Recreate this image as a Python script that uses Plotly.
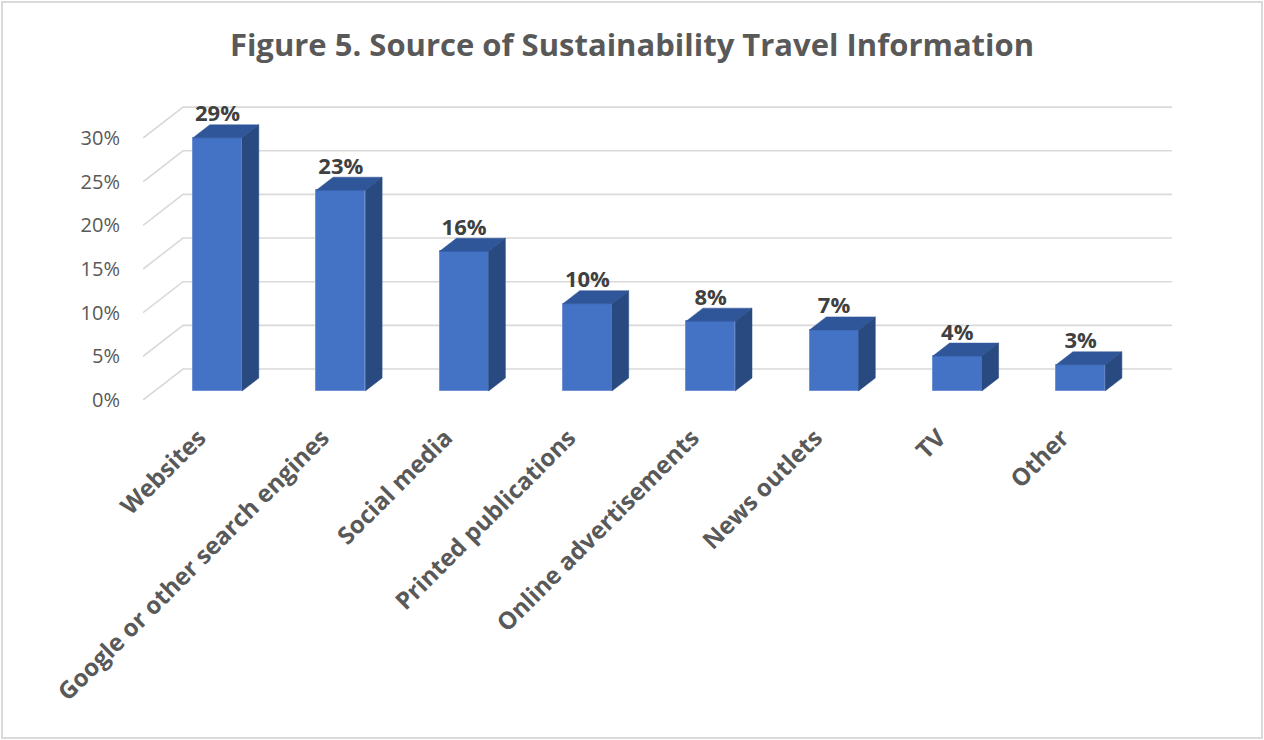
import plotly.graph_objects as go

# ---------------- data ----------------
categories = ["Websites", "Google or other search engines", "Social media",
              "Printed publications", "Online advertisements", "News outlets",
              "TV", "Other"]
values = [29, 23, 16, 10, 8, 7, 4, 3]
y_ticks = [0, 5, 10, 15, 20, 25, 30]
y_tick_labels = ["0%", "5%", "10%", "15%", "20%", "25%", "30%"]
title_text = "Figure 5. Source of Sustainability Travel Information"

# ---------------- layout / projection constants ----------------
W, H = 1264, 740
ML, MR, MT, MB = 143, 92, 90, 340          # plot area margins (px)
PX_PER_CAT = 123.3                         # px per category step
PX_PER_PCT = 8.73                          # px per 1 %
DEPTH_PX_X, DEPTH_PX_Y = 40.0, 31.0        # full depth offset (px)
KX = DEPTH_PX_X / PX_PER_CAT               # depth offset in category units
KY = DEPTH_PX_Y / PX_PER_PCT               # depth offset in % units
D_FRONT, D_BACK = 0.29, 0.71               # bar depth span
BAR_W = 49.0 / PX_PER_CAT                  # bar width in category units
FIRST_X_PX = 205.9                         # front-plane px of first category

x_min = (ML - FIRST_X_PX) / PX_PER_CAT
x_max = (W - MR - FIRST_X_PX) / PX_PER_CAT
y_min = 0.0
y_max = (H - MB - MT) / PX_PER_PCT
c_lo, c_hi = -0.51, len(categories) - 1 + 0.51


def proj(c, v, d):
    return c + d * KX, v + d * KY


FRONT = "#4472C4"
TOP = "#30569A"
SIDE = "#294A80"
GRID = "#D9D9D9"

fig = go.Figure()
shapes = []

# gridlines (floor-side diagonal + back wall) as shapes below the traces
for t in y_ticks:
    pts = [proj(c, t, d) for (c, d) in [(c_lo, 0), (c_lo, 1), (c_hi, 1)]]
    path = "M {} {} L {} {} L {} {}".format(pts[0][0], pts[0][1], pts[1][0], pts[1][1],
                                            pts[2][0], pts[2][1])
    shapes.append(dict(type="path", path=path, xref="x", yref="y",
                       line=dict(color=GRID, width=1.6), layer="below"))

# front faces as real bars
front_x = [proj(i, 0, D_FRONT)[0] for i in range(len(values))]
front_base = proj(0, 0, D_FRONT)[1]
fig.add_trace(go.Bar(x=front_x, y=values, base=front_base, width=BAR_W,
                     marker=dict(color=FRONT, line=dict(color="#6E92D4", width=1)),
                     hoverinfo="skip", showlegend=False))

# top and side faces
for i, v in enumerate(values):
    cl = i - BAR_W / 2
    cr = i + BAR_W / 2
    pts = [proj(cl, v, D_FRONT), proj(cl, v, D_BACK), proj(cr, v, D_BACK), proj(cr, v, D_FRONT)]
    fig.add_trace(go.Scatter(x=[p[0] for p in pts] + [pts[0][0]],
                             y=[p[1] for p in pts] + [pts[0][1]],
                             mode="lines", fill="toself", fillcolor=TOP,
                             line=dict(color=TOP, width=0.5),
                             hoverinfo="skip", showlegend=False))
    pts = [proj(cr, 0, D_FRONT), proj(cr, 0, D_BACK), proj(cr, v, D_BACK), proj(cr, v, D_FRONT)]
    fig.add_trace(go.Scatter(x=[p[0] for p in pts] + [pts[0][0]],
                             y=[p[1] for p in pts] + [pts[0][1]],
                             mode="lines", fill="toself", fillcolor=SIDE,
                             line=dict(color=SIDE, width=0.5),
                             hoverinfo="skip", showlegend=False))

# data labels
fig.add_trace(go.Scatter(
    x=front_x,
    y=[v + front_base + 22 / PX_PER_PCT for v in values],
    mode="text",
    text=[f"{v}%" for v in values],
    textposition="middle center",
    textfont=dict(family="Open Sans", size=22, color="#404040", weight="bold"),
    hoverinfo="skip", showlegend=False))

# chart border
pw, ph = W - ML - MR, H - MT - MB
shapes.append(dict(type="rect", xref="paper", yref="paper",
                   x0=(2 - ML) / pw, x1=(W - 2 - ML) / pw,
                   y0=-(MB - 2) / ph, y1=1 + (MT - 2) / ph,
                   line=dict(color="#D9D9D9", width=2), layer="below"))

fig.update_layout(
    width=W, height=H,
    margin=dict(l=ML, r=MR, t=MT, b=MB, autoexpand=False),
    paper_bgcolor="white", plot_bgcolor="white",
    bargap=0,
    title=dict(text=f"<b>{title_text}</b>", x=0.5, xref="container", xanchor="center",
               y=1 - 45 / H, yref="container", yanchor="middle",
               font=dict(family="Open Sans", size=31, color="#595959")),
    xaxis=dict(range=[x_min, x_max], tickmode="array",
               tickvals=list(range(len(categories))), ticktext=categories,
               tickangle=-45, showgrid=False, zeroline=False, showline=False,
               ticks="", automargin=False, ticklabelstandoff=18, ticklabelshift=-7,
               tickfont=dict(family="Open Sans", size=24, color="#595959", weight="bold")),
    yaxis=dict(range=[y_min, y_max], tickmode="array", tickvals=y_ticks,
               ticktext=y_tick_labels, showgrid=False, zeroline=False, showline=False,
               ticks="", automargin=False, ticklabelstandoff=22,
               tickfont=dict(family="Open Sans", size=20, color="#595959")),
    shapes=shapes,
)

fig.write_html("out.html", config={"displayModeBar": False},
               post_script="document.body.style.margin='0';")
